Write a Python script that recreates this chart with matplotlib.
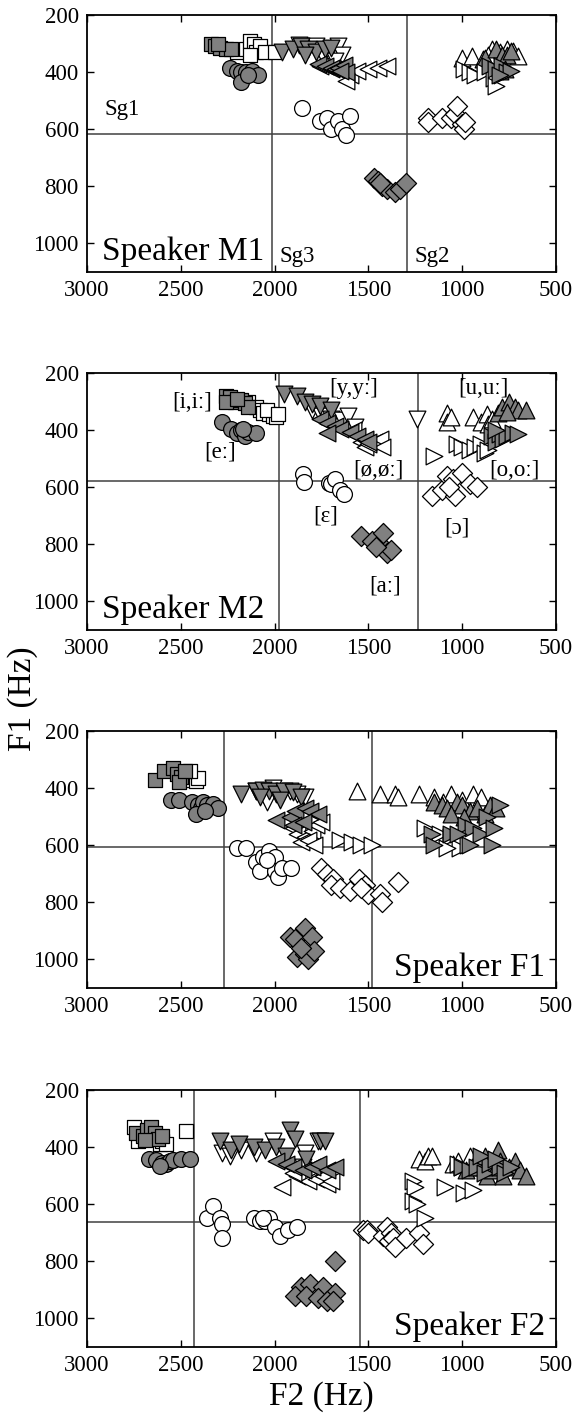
import numpy as np
import matplotlib
matplotlib.use("Agg")
import matplotlib.pyplot as plt

plt.rcParams['font.family'] = ['Liberation Serif', 'DejaVu Serif']

# ---- data: (F2, F1) pairs in Hz ----
# Speaker M1
m1_i = [(2340, 300), (2320, 310), (2290, 315), (2260, 320), (2230, 320), (2300, 300)]
m1_ii = [(2200, 330), (2150, 320), (2130, 290), (2110, 300), (2100, 330), (2080, 310),
         (2050, 330), (2000, 330), (2130, 340)]
m1_e = [(2240, 385), (2200, 395), (2180, 400), (2150, 400), (2120, 395), (2090, 410),
        (2180, 435), (2140, 410)]
m1_y = [(1960, 330), (1900, 320), (1860, 310), (1820, 320), (1780, 330), (1730, 320),
        (1700, 315), (1840, 340)]
m1_yy = [(1870, 305), (1780, 310), (1740, 345), (1700, 320), (1660, 310), (1640, 340),
         (1680, 360)]
m1_oe = [(1770, 370), (1730, 380), (1700, 385), (1680, 390), (1660, 385), (1630, 375),
         (1620, 400), (1650, 395)]
m1_oeoe = [(1760, 380), (1700, 390), (1640, 400), (1600, 410), (1560, 395), (1500, 390),
           (1450, 385), (1400, 380), (1620, 430)]
m1_u = [(880, 350), (820, 320), (790, 340), (760, 340), (740, 325), (770, 390), (800, 395)]
m1_uu = [(1000, 350), (950, 345), (890, 355), (840, 320), (800, 330), (760, 320),
         (730, 325), (700, 345), (860, 340)]
m1_o = [(850, 380), (820, 390), (790, 380), (760, 400), (740, 395), (800, 410)]
m1_oo = [(990, 390), (960, 400), (930, 410), (880, 400), (830, 420), (820, 450),
         (790, 410), (760, 400)]
m1_eh = [(1855, 525), (1760, 570), (1720, 560), (1700, 600), (1660, 570), (1640, 600),
         (1620, 620), (1600, 555)]
m1_oh = [(1180, 560), (1180, 575), (1110, 560), (1060, 560), (1040, 545), (1030, 520),
         (1000, 580), (990, 600), (985, 575)]
m1_aa = [(1470, 770), (1450, 780), (1430, 800), (1400, 810), (1360, 820), (1330, 810),
         (1300, 790), (1440, 790)]

# Speaker M2
m2_i = [(2260, 280), (2240, 285), (2210, 300), (2180, 295), (2160, 305), (2140, 320),
        (2260, 300), (2200, 290)]
m2_ii = [(2140, 300), (2100, 320), (2080, 330), (2060, 340), (2030, 345), (2010, 350),
         (1990, 355), (2040, 330), (1980, 345)]
m2_e = [(2280, 370), (2230, 395), (2200, 410), (2180, 400), (2160, 420), (2140, 405),
        (2100, 410), (2170, 395)]
m2_y = [(1950, 275), (1880, 280), (1840, 300), (1800, 310), (1760, 315), (1700, 330)]
m2_yy = [(1800, 330), (1750, 350), (1700, 360), (1640, 365), (1610, 350), (1570, 390),
         (1240, 360)]
m2_oe = [(1760, 360), (1720, 375), (1680, 385), (1650, 395), (1600, 405), (1560, 420),
         (1520, 430), (1500, 440), (1720, 410)]
m2_oeoe = [(1580, 400), (1540, 440), (1520, 460), (1500, 450), (1470, 440), (1440, 430),
           (1430, 460)]
m2_u = [(810, 340), (790, 320), (750, 300), (720, 320), (700, 330), (660, 330), (760, 335)]
m2_uu = [(1080, 340), (1080, 370), (1060, 355), (940, 355), (900, 370), (870, 345),
         (860, 380), (840, 360)]
m2_o = [(840, 420), (820, 440), (800, 415), (780, 430), (760, 420), (730, 410),
        (700, 415), (820, 400)]
m2_oo = [(1150, 490), (1030, 450), (1000, 460), (960, 470), (930, 460), (900, 450),
         (880, 480), (860, 470)]
m2_eh = [(1850, 555), (1845, 580), (1710, 585), (1700, 590), (1680, 570), (1650, 610),
         (1630, 625)]
m2_oh = [(1160, 630), (1110, 610), (1080, 560), (1050, 570), (1040, 630), (1000, 550),
         (960, 590), (920, 600), (1070, 600)]
m2_aa = [(1540, 770), (1480, 790), (1440, 800), (1420, 760), (1400, 830), (1380, 820),
         (1460, 810)]

# Speaker F1
f1_i = [(2640, 370), (2590, 340), (2540, 330), (2520, 350), (2500, 360), (2510, 380),
        (2480, 340)]
f1_ii = [(2480, 350), (2460, 360), (2440, 370), (2420, 375), (2410, 365), (2450, 340)]
f1_e = [(2550, 440), (2510, 440), (2440, 450), (2410, 460), (2390, 470), (2380, 450),
        (2360, 460), (2330, 455), (2300, 470), (2420, 490), (2370, 480)]
f1_y = [(2180, 420), (2100, 410), (2060, 405), (2030, 410), (1990, 420), (1950, 410),
        (1900, 415), (1860, 430), (2080, 430), (1970, 440)]
f1_yy = [(2100, 410), (2050, 430), (2010, 400), (1920, 410), (1880, 420), (1840, 430),
         (2040, 450)]
f1_oe = [(1990, 510), (1920, 500), (1890, 480), (1840, 470), (1810, 480), (1770, 490),
         (1900, 530), (1850, 520)]
f1_oeoe = [(1900, 540), (1880, 560), (1840, 570), (1800, 550), (1780, 530), (1750, 520),
           (1860, 590), (1820, 580), (1790, 600)]
f1_u = [(1150, 450), (1110, 460), (1080, 470), (1030, 450), (1000, 460), (960, 480),
        (920, 470), (880, 490), (850, 460), (1060, 490), (990, 500), (820, 470)]
f1_uu = [(1560, 410), (1440, 420), (1360, 420), (1340, 430), (1230, 420), (1150, 430),
         (1060, 420), (1000, 440), (940, 420), (1100, 450), (900, 430)]
f1_o = [(1160, 560), (1150, 600), (1060, 560), (980, 530), (940, 540), (900, 560),
        (870, 500), (830, 540), (800, 460), (840, 600), (1020, 560), (960, 600)]
f1_oo = [(1650, 580), (1590, 590), (1540, 600), (1480, 600), (1200, 540), (1120, 560),
         (1060, 570), (1010, 610), (970, 600), (1080, 610)]
f1_eh = [(2200, 610), (2150, 610), (2100, 660), (2080, 690), (2060, 640), (2030, 620),
         (2000, 640), (2000, 690), (1980, 710), (1960, 680), (1910, 680), (2040, 650)]
f1_oh = [(1750, 680), (1720, 700), (1690, 720), (1700, 740), (1650, 750), (1600, 760),
         (1550, 720), (1520, 740), (1500, 770), (1440, 770), (1430, 800), (1340, 730),
         (1540, 750)]
f1_aa = [(1920, 920), (1890, 930), (1840, 890), (1800, 920), (1880, 990), (1840, 980),
         (1820, 1000), (1790, 970), (1860, 960)]

# Speaker F2
f2_i = [(2740, 350), (2700, 360), (2680, 340), (2660, 330), (2640, 350), (2620, 370),
        (2600, 360), (2690, 375)]
f2_ii = [(2750, 330), (2730, 380), (2650, 370), (2610, 390), (2600, 380), (2580, 390),
         (2470, 345)]
f2_e = [(2670, 440), (2630, 445), (2600, 455), (2580, 460), (2560, 450), (2540, 445),
        (2500, 440), (2450, 440), (2610, 465)]
f2_y = [(2290, 380), (2230, 410), (2190, 390), (2110, 400), (2050, 410), (1990, 400),
        (1940, 430), (1920, 340), (1890, 370), (1830, 440), (1760, 380), (1730, 380)]
f2_yy = [(2280, 420), (2240, 430), (2180, 410), (2100, 420), (2010, 380), (1840, 420),
         (1770, 380), (1850, 470)]
f2_oe = [(1990, 450), (1940, 460), (1900, 470), (1850, 480), (1800, 470), (1770, 460),
         (1720, 480), (1680, 470)]
f2_oeoe = [(1960, 540), (1880, 500), (1820, 520), (1780, 510), (1740, 500), (1720, 530),
           (1700, 520), (1900, 490)]
f2_u = [(980, 480), (950, 470), (900, 450), (870, 500), (840, 480), (810, 410),
        (800, 450), (780, 500), (750, 470), (720, 450), (690, 480), (660, 500),
        (880, 430), (820, 470)]
f2_uu = [(1230, 440), (1200, 450), (1180, 430), (1160, 430), (1050, 460), (1020, 450),
         (960, 430), (930, 470)]
f2_o = [(1000, 470), (960, 480), (920, 470), (880, 490), (850, 460), (800, 470),
        (770, 490), (740, 470), (900, 430), (820, 440)]
f2_oo = [(1260, 520), (1250, 540), (1260, 590), (1240, 600), (1200, 650), (1090, 540),
         (990, 560), (940, 550), (1000, 470), (1020, 460)]
f2_eh = [(2360, 650), (2330, 605), (2290, 650), (2280, 670), (2280, 720), (2110, 650),
         (2080, 660), (2050, 660), (2030, 650), (2000, 680), (1970, 710), (1930, 690),
         (1880, 680), (2060, 650)]
f2_oh = [(1530, 690), (1510, 690), (1500, 700), (1420, 710), (1400, 680), (1380, 700),
         (1390, 730), (1370, 720), (1360, 750), (1300, 720), (1230, 700), (1210, 740)]
f2_aa = [(1680, 800), (1860, 890), (1810, 880), (1740, 890), (1680, 910), (1890, 920),
         (1830, 920), (1770, 930), (1720, 940), (1690, 940)]

# boundaries: (F2 Sg3, F2 Sg2, F1 Sg1)
m1_sg = (2015, 1295, 615)
m2_sg = (1975, 1235, 578)
f1_sg = (2270, 1480, 606)
f2_sg = (2430, 1545, 662)

# vowel label positions for speaker M2
m2_labels = ['[i,iː]', '[eː]', '[y,yː]', '[u,uː]', '[ø,øː]', '[o,oː]', '[ɛ]', '[ɔ]', '[aː]']
m2_label_f2 = [2440, 2290, 1577, 888, 1448, 724, 1729, 1030, 1409]
m2_label_f1 = [305, 475, 255, 255, 540, 540, 702, 743, 947]

GRAY = '0.5'
# marker, filled, size for each vowel key
styles = {
    'i': ('s', True, 100), 'ii': ('s', False, 100),
    'e': ('o', True, 130), 'eh': ('o', False, 130),
    'y': ('v', True, 145), 'yy': ('v', False, 145),
    'oe': ('<', True, 145), 'oeoe': ('<', False, 145),
    'u': ('^', True, 145), 'uu': ('^', False, 145),
    'o': ('>', True, 145), 'oo': ('>', False, 145),
    'oh': ('D', False, 105), 'aa': ('D', True, 105),
}
order = ['oh', 'aa', 'eh', 'e', 'ii', 'i', 'yy', 'y', 'oeoe', 'oe', 'uu', 'u', 'oo', 'o']

speakers = [
    ('Speaker M1', {'i': m1_i, 'ii': m1_ii, 'e': m1_e, 'y': m1_y, 'yy': m1_yy, 'oe': m1_oe,
                    'oeoe': m1_oeoe, 'u': m1_u, 'uu': m1_uu, 'o': m1_o, 'oo': m1_oo,
                    'eh': m1_eh, 'oh': m1_oh, 'aa': m1_aa}, m1_sg),
    ('Speaker M2', {'i': m2_i, 'ii': m2_ii, 'e': m2_e, 'y': m2_y, 'yy': m2_yy, 'oe': m2_oe,
                    'oeoe': m2_oeoe, 'u': m2_u, 'uu': m2_uu, 'o': m2_o, 'oo': m2_oo,
                    'eh': m2_eh, 'oh': m2_oh, 'aa': m2_aa}, m2_sg),
    ('Speaker F1', {'i': f1_i, 'ii': f1_ii, 'e': f1_e, 'y': f1_y, 'yy': f1_yy, 'oe': f1_oe,
                    'oeoe': f1_oeoe, 'u': f1_u, 'uu': f1_uu, 'o': f1_o, 'oo': f1_oo,
                    'eh': f1_eh, 'oh': f1_oh, 'aa': f1_aa}, f1_sg),
    ('Speaker F2', {'i': f2_i, 'ii': f2_ii, 'e': f2_e, 'y': f2_y, 'yy': f2_yy, 'oe': f2_oe,
                    'oeoe': f2_oeoe, 'u': f2_u, 'uu': f2_uu, 'o': f2_o, 'oo': f2_oo,
                    'eh': f2_eh, 'oh': f2_oh, 'aa': f2_aa}, f2_sg),
]

W, H = 574, 1419
fig = plt.figure(figsize=(W / 100, H / 100), dpi=100)
tops = [15, 373, 731, 1090]
ax_l, ax_w, ax_h = 87, 469, 257

for (name, data, sg), top in zip(speakers, tops):
    ax = fig.add_axes([ax_l / W, 1 - (top + ax_h) / H, ax_w / W, ax_h / H])
    for key in order:
        pts = np.array(data[key])
        mk, filled, s = styles[key]
        ax.scatter(pts[:, 0], pts[:, 1], marker=mk, s=s,
                   facecolors=GRAY if filled else 'white',
                   edgecolors='black', linewidths=0.9, zorder=3)
    ax.axvline(sg[0], color='0.25', lw=1.1, zorder=1)
    ax.axvline(sg[1], color='0.25', lw=1.1, zorder=1)
    ax.axhline(sg[2], color='0.25', lw=1.1, zorder=1)
    ax.set_xlim(3000, 500)
    ax.set_ylim(1100, 200)
    ax.set_xticks([3000, 2500, 2000, 1500, 1000, 500])
    ax.set_yticks([200, 400, 600, 800, 1000])
    ax.tick_params(direction='in', top=True, right=True, length=5, width=1,
                   labelsize=16.5, pad=6)
    for sp in ax.spines.values():
        sp.set_linewidth(1.3)
    if name in ('Speaker M1', 'Speaker M2'):
        ax.text(2920, 1030, name, fontsize=24, va='center', ha='left')
    else:
        ax.text(560, 1030, name, fontsize=24, va='center', ha='right')
    if name == 'Speaker M1':
        ax.text(2905, 530, 'Sg1', fontsize=16.5, va='center', ha='left')
        ax.text(1975, 1045, 'Sg3', fontsize=16.5, va='center', ha='left')
        ax.text(1255, 1045, 'Sg2', fontsize=16.5, va='center', ha='left')
    if name == 'Speaker M2':
        for lab, x, y in zip(m2_labels, m2_label_f2, m2_label_f1):
            ax.text(x, y, lab, fontsize=16.5, va='center', ha='center', zorder=4)

fig.text(23 / W, 1 - 699 / H, 'F1 (Hz)', rotation=90, fontsize=24,
         ha='center', va='center')
fig.text(321 / W, 1 - 1397 / H, 'F2 (Hz)', fontsize=24, ha='center', va='center')

fig.savefig('out.png', dpi=100)
